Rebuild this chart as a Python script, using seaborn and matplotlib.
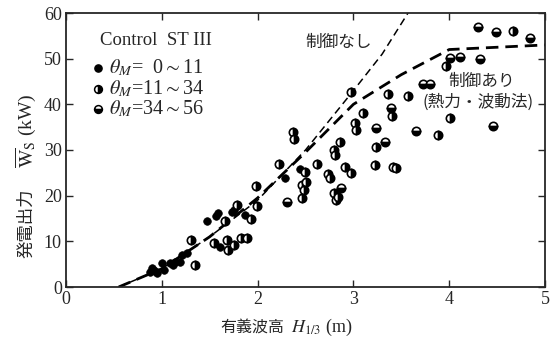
import matplotlib
matplotlib.use("Agg")
import matplotlib.pyplot as plt
import seaborn as sns
import pandas as pd

# ---- data ----
filled_x = [0.88, 0.91, 0.93, 0.95, 0.90, 1.00, 1.02, 1.09, 1.12, 1.14, 1.19, 1.21, 1.26,
            1.47, 1.57, 1.59, 1.61, 1.73, 1.75, 1.87, 2.29, 2.44]
filled_y = [3.2, 3.8, 3.5, 3.0, 4.2, 5.2, 3.7, 5.2, 4.8, 5.5, 5.5, 7.0, 7.5,
            14.5, 15.6, 16.2, 8.8, 16.5, 16.9, 15.8, 23.8, 25.8]

mid_x = [1.31, 1.35, 1.54, 1.66, 1.68, 1.69, 1.75, 1.79, 1.83, 1.89, 1.93, 1.98, 1.99,
         2.22, 2.37, 2.38, 2.46, 2.51, 2.48, 2.46, 2.49, 2.62, 2.74, 2.76, 2.80, 2.82,
         2.84, 2.80, 2.81, 2.86, 2.91, 2.97, 2.97, 3.02, 3.03, 3.10, 3.24, 3.23, 3.36,
         3.40, 3.41, 3.44, 3.57, 3.88, 4.01, 3.97, 4.67]
mid_y = [10.4, 4.8, 9.7, 14.5, 10.4, 8.2, 9.2, 17.9, 10.7, 10.8, 14.9, 22.1, 17.7,
         26.9, 34.0, 32.5, 22.3, 23.0, 21.2, 19.4, 25.2, 26.9, 24.8, 23.8, 20.6, 19.0,
         19.7, 30.1, 28.9, 31.8, 26.2, 25.0, 42.7, 36.0, 34.4, 38.2, 30.7, 26.7, 42.2,
         37.4, 26.3, 26.0, 41.9, 33.2, 37.1, 48.4, 56.0]

high_x = [2.31, 2.87, 3.24, 3.33, 3.39, 3.65, 3.73, 3.80, 4.01, 4.11, 4.32, 4.30, 4.49, 4.84, 4.46]
high_y = [18.7, 21.6, 34.9, 31.8, 39.2, 34.1, 44.4, 44.4, 50.1, 50.4, 49.9, 57.0, 55.8, 54.6, 35.2]

nocontrol_x = [0.55, 1.0, 1.5, 2.0, 2.5, 3.0, 3.3, 3.57, 3.65]
nocontrol_y = [0.0, 4.0, 11.0, 19.0, 30.0, 43.0, 51.0, 60.0, 62.5]

control_x = [0.55, 1.0, 1.5, 2.0, 2.5, 3.0, 3.5, 4.0, 5.0]
control_y = [0.0, 4.0, 11.0, 19.5, 29.5, 40.0, 46.5, 52.0, 53.0]

x_ticks = [0, 1, 2, 3, 4, 5]
y_ticks = [0, 10, 20, 30, 40, 50, 60]

legend_title = "Control  ST III"
legend_labels = [r"$\theta_M$=  0$\sim$11", r"$\theta_M$=11$\sim$34", r"$\theta_M$=34$\sim$56"]
label_nocontrol = "制御なし"
label_control = ["制御あり", "(熱力・波動法)"]

# ---- style ----
sns.set_style("ticks")
plt.rcParams["mathtext.fontset"] = "stix"
plt.rcParams["font.family"] = ["Liberation Serif", "Noto Sans CJK JP"]
JP = ["Noto Sans CJK JP", "Liberation Serif"]
SERIF = ["Liberation Serif", "Noto Sans CJK JP"]

fig = plt.figure(figsize=(5.57, 3.43), dpi=100)
W, H = 557, 343
ax = fig.add_axes([66 / W, 1 - 287 / H, (545 - 66) / W, (287 - 13) / H])

# lines
df_nc = pd.DataFrame({"x": nocontrol_x, "y": nocontrol_y})
df_c = pd.DataFrame({"x": control_x, "y": control_y})
sns.lineplot(data=df_nc, x="x", y="y", ax=ax, color="black", lw=1.1,
             linestyle=(0, (5, 3)), sort=False, estimator=None)
sns.lineplot(data=df_c, x="x", y="y", ax=ax, color="black", lw=2.0,
             linestyle=(0, (4.5, 2.5)), sort=False, estimator=None)

# points
df_f = pd.DataFrame({"x": filled_x, "y": filled_y})
sns.scatterplot(data=df_f, x="x", y="y", ax=ax, color="black", s=30,
                edgecolor="black", linewidth=0.5, zorder=4)
ax.plot(mid_x, mid_y, linestyle="none", marker="o", ms=6.0, fillstyle="right",
        markerfacecolor="black", markerfacecoloralt="white", markeredgecolor="black",
        markeredgewidth=1.2, zorder=4)
ax.plot(high_x, high_y, linestyle="none", marker="o", ms=6.0, fillstyle="bottom",
        markerfacecolor="black", markerfacecoloralt="white", markeredgecolor="black",
        markeredgewidth=1.2, zorder=4)

ax.set_xlim(0, 5)
ax.set_ylim(0, 60)
ax.set_xticks(x_ticks)
ax.set_yticks(y_ticks)
ax.set_xticklabels([str(t) for t in x_ticks], fontsize=13, family=SERIF)
ax.set_yticklabels([str(t) for t in y_ticks], fontsize=13, family=SERIF)
ax.tick_params(direction="in", top=True, right=True, length=5, width=1, pad=3)
ax.set_xlabel("")
ax.set_ylabel("")
for s in ax.spines.values():
    s.set_linewidth(1.3)
    s.set_visible(True)

# legend (hand placed)
ax.text(0.36, 54.0, legend_title, fontsize=13.5, family=SERIF, va="center", ha="left")
leg_y = [48.0, 43.4, 38.9]
ax.plot([0.33], [leg_y[0]], "o", ms=5.2, color="black")
ax.plot([0.33], [leg_y[1]], "o", ms=5.6, fillstyle="right", markerfacecolor="black",
        markerfacecoloralt="white", markeredgecolor="black", markeredgewidth=1.1)
ax.plot([0.33], [leg_y[2]], "o", ms=5.6, fillstyle="bottom", markerfacecolor="black",
        markerfacecoloralt="white", markeredgecolor="black", markeredgewidth=1.1)
for yy, lab in zip(leg_y, legend_labels):
    ax.text(0.45, yy, lab, fontsize=14.5, family=SERIF, va="center", ha="left")

# annotations
ax.text(2.84, 53.6, label_nocontrol, fontsize=12, family=JP, ha="center", va="center")
ax.text(4.34, 44.9, label_control[0], fontsize=12, family=JP, ha="center", va="center")
ax.text(4.30, 40.4, label_control[1], fontsize=12, family=JP, ha="center", va="center")

# axis labels (pieces)
fig.text(284 / W, 1 - 327 / H, "有義波高", fontsize=11.5, family=JP, ha="right", va="center")
fig.text(291 / W, 1 - 327 / H, r"$H_{1/3}$ (m)", fontsize=13, family=SERIF, ha="left", va="center")
fig.text(26 / W, 1 - 223 / H, "発電出力", fontsize=12.5, family=JP, rotation=90,
         ha="center", va="center")
fig.text(26 / W, 1 - 131 / H, r"$\overline{\mathrm{W}}_{\mathrm{S}}$ (kW)", fontsize=14,
         family=SERIF, rotation=90, ha="center", va="center")

fig.savefig("out.png", dpi=100)
